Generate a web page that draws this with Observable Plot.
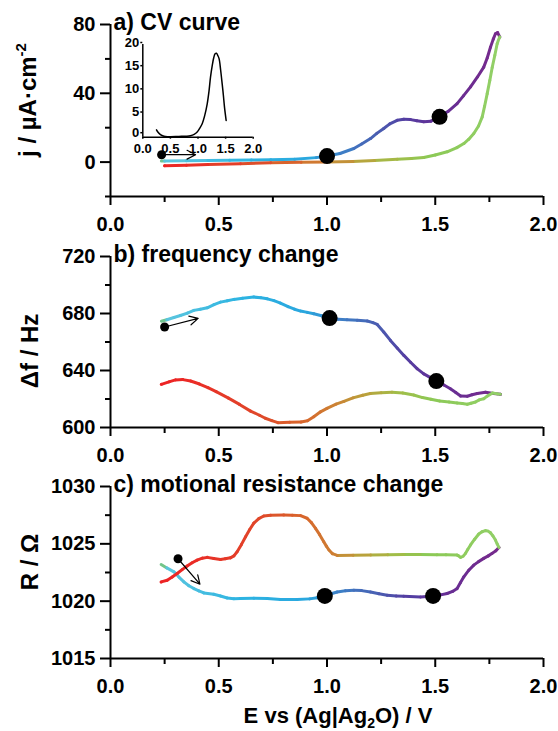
<!DOCTYPE html>
<html><head><meta charset="utf-8">
<script src="https://cdn.jsdelivr.net/npm/d3@7"></script>
<script src="https://cdn.jsdelivr.net/npm/@observablehq/plot@0.6"></script>
<style>
html,body{margin:0;padding:0;background:#fff;}
#wrap{position:relative;width:558px;height:731px;overflow:hidden;}
</style></head>
<body><div id="wrap"></div>
<script>
// ---------- data ----------
const xMajor = [0, 0.5, 1.0, 1.5, 2.0];
const xMinor = [0.25, 0.75, 1.25, 1.75];

// a) CV curve
const cvFwdE = [0.235,0.25,0.35,0.45,0.55,0.65,0.74,0.85,0.95,1.0,1.06,1.124,1.16,1.201,1.23,1.262,1.29,1.324,1.355,1.386,1.415,1.447,1.48,1.521,1.56,1.601,1.63,1.663,1.695,1.724,1.74,1.755,1.768,1.778,1.788,1.798];
const cvFwdJ = [0.6,0.6,0.8,0.95,1.05,1.15,1.3,1.7,2.6,3.5,5.0,7.9,10.5,13.7,16.7,19.5,22.2,24.3,24.9,24.7,24.0,23.4,23.8,26.3,29.5,34.0,38.5,43.7,49.5,55.2,60.5,66.8,71.5,74.6,75.3,72.8];
const cvRevE = [1.798,1.792,1.786,1.775,1.763,1.752,1.740,1.728,1.717,1.700,1.678,1.655,1.632,1.600,1.555,1.50,1.447,1.39,1.324,1.22,1.12,1.0,0.88,0.74,0.60,0.45,0.35,0.25];
const cvRevJ = [72.8,71.0,68.8,62.0,55.0,47.5,39.8,32.5,26.3,21.0,16.6,13.3,10.8,8.4,6.0,4.1,2.7,2.1,1.6,0.9,0.4,0.1,-0.1,-0.4,-0.9,-1.4,-1.8,-2.1];
const cvDotE = [1.0, 1.52];
const cvDotJ = [3.5, 26.3];
const cvStart = [0.236, 4.3, 0.393, 4.3];
const cvYMajor = [80, 40, 0];
const cvYMinor = [60, 20, -20];

// inset
const insetE = [0.248,0.28,0.32,0.36,0.41,0.5,0.62,0.7,0.8,0.864,0.93,0.985,1.03,1.076,1.12,1.167,1.2,1.226,1.26,1.286,1.31,1.335,1.36,1.383,1.41,1.438,1.46,1.48,1.51];
const insetJ = [1.6,1.0,0.55,0.3,0.15,0.1,0.15,0.2,0.2,0.3,0.6,1.1,1.9,2.9,4.6,7.2,10.0,12.9,15.6,17.2,18.0,18.1,17.6,16.9,14.5,11.5,9.0,6.5,3.6];
const insetXTicks = [0, 0.5, 1.0, 1.5, 2.0];
const insetYTicks = [5, 10, 15, 20];
const insetYZero = [0];

// b) frequency change
const frFwdE = [0.235,0.26,0.293,0.323,0.355,0.385,0.415,0.447,0.478,0.508,0.54,0.57,0.61,0.662,0.695,0.724,0.755,0.785,0.82,0.85,0.878,0.909,0.939,0.975,1.012,1.05,1.093,1.14,1.186,1.212,1.232,1.262,1.293,1.324,1.355,1.386,1.416,1.447,1.478,1.508,1.54,1.57,1.595,1.617,1.648,1.67,1.694,1.732,1.77,1.801];
const frFwdF = [674.6,675.6,677.2,678.6,680.3,682.2,683.0,684.0,686.2,688.0,688.9,689.9,690.7,691.5,691.1,690.3,689.0,687.3,684.8,683.0,681.7,680.8,679.8,678.4,676.8,676.0,675.6,675.2,674.7,673.6,672.3,667.0,661.1,655.8,650.6,645.8,641.3,637.6,635.0,632.6,629.8,627.2,624.5,622.1,621.9,623.0,623.8,624.7,623.8,623.3];
const frRevE = [1.801,1.787,1.765,1.740,1.724,1.703,1.686,1.665,1.648,1.625,1.601,1.564,1.520,1.480,1.441,1.400,1.350,1.300,1.250,1.200,1.165,1.120,1.078,1.042,1.0,0.970,0.939,0.910,0.880,0.827,0.773,0.745,0.715,0.688,0.647,0.596,0.545,0.488,0.45,0.411,0.370,0.334,0.300,0.270,0.235];
const frRevF = [623.3,623.6,624.2,622.0,620.2,619.4,617.9,617.0,616.3,616.8,617.2,617.9,618.6,619.8,621.0,622.8,624.2,624.8,624.4,623.8,622.6,620.8,618.3,616.4,613.4,611.0,607.6,604.8,603.8,603.6,603.4,604.8,606.5,608.6,611.5,616.2,620.6,625.2,628.0,630.5,632.6,633.6,633.4,632.0,630.3];
const frDotE = [1.012, 1.505];
const frDotF = [676.8, 632.6];
const frStart = [0.25, 670.5, 0.405, 676.6];
const frYMajor = [720, 680, 640, 600];
const frYMinor = [700, 660, 620];

// c) motional resistance change
const rsFwdE = [0.234,0.26,0.293,0.316,0.339,0.362,0.385,0.408,0.431,0.477,0.508,0.539,0.57,0.6,0.662,0.724,0.785,0.862,0.92,0.954,0.988,1.015,1.047,1.085,1.124,1.16,1.201,1.24,1.278,1.32,1.355,1.432,1.49,1.525,1.555,1.58,1.601,1.616,1.632,1.655,1.678,1.70,1.724,1.745,1.763,1.78,1.794];
const rsFwdR = [1023.2,1022.9,1022.56,1022.1,1021.68,1021.35,1021.1,1020.9,1020.72,1020.6,1020.45,1020.28,1020.22,1020.23,1020.25,1020.23,1020.14,1020.14,1020.2,1020.3,1020.46,1020.62,1020.8,1020.9,1020.95,1020.92,1020.8,1020.65,1020.52,1020.45,1020.43,1020.37,1020.46,1020.55,1020.67,1020.85,1021.1,1021.6,1022.12,1022.7,1023.14,1023.45,1023.73,1023.95,1024.17,1024.4,1024.69];
const rsRevE = [1.794,1.786,1.778,1.766,1.755,1.743,1.732,1.716,1.701,1.682,1.663,1.65,1.64,1.628,1.617,1.608,1.601,1.55,1.508,1.43,1.355,1.28,1.201,1.12,1.047,1.025,1.009,0.997,0.985,0.966,0.947,0.928,0.908,0.878,0.84,0.8,0.739,0.708,0.685,0.662,0.643,0.624,0.605,0.585,0.57,0.554,0.53,0.508,0.477,0.447,0.424,0.4,0.377,0.354,0.331,0.308,0.285,0.262,0.234];
const rsRevR = [1024.69,1025.0,1025.33,1025.7,1025.97,1026.12,1026.15,1026.05,1025.86,1025.4,1024.9,1024.5,1024.17,1023.9,1023.82,1023.95,1024.02,1024.05,1024.05,1024.08,1024.08,1024.05,1024.02,1024.0,1023.99,1024.15,1024.46,1024.8,1025.18,1025.8,1026.35,1026.85,1027.23,1027.46,1027.5,1027.52,1027.5,1027.43,1027.2,1026.8,1026.25,1025.62,1024.95,1024.31,1023.95,1023.78,1023.7,1023.64,1023.72,1023.82,1023.75,1023.58,1023.35,1023.06,1022.75,1022.41,1022.1,1021.83,1021.68];
const rsDotE = [0.99, 1.49];
const rsDotR = [1020.46, 1020.46];
const rsStart = [0.312, 1023.7, 0.413, 1021.48];
const rsYMajor = [1030, 1025, 1020, 1015];
const rsYMinor = [1027.5, 1022.5, 1017.5];

// ---------- styling ----------
const FONT = "'Liberation Sans', Arial, Helvetica, sans-serif";
const fwdColor = d3.scaleLinear()
  .domain([0.23, 0.245, 0.6, 0.9, 1.0, 1.2, 1.35, 1.5, 1.8])
  .range(["#7cc46a", "#5cc6de", "#2cb3e2", "#2aa6de", "#3a88cc", "#4862b4", "#543fa2", "#632f95", "#782a8c"])
  .clamp(true);
const revColor = d3.scaleLinear()
  .domain([0.23, 0.4, 0.7, 0.9, 1.05, 1.2, 1.35, 1.5, 1.8])
  .range(["#ed2224", "#ea2c26", "#e0482a", "#d8662c", "#cc8234", "#b9a23c", "#a2bd48", "#8cc956", "#92d068"])
  .clamp(true);

const wrap = document.getElementById("wrap");
function place(node, left, top) {
  const d = document.createElement("div");
  d.style.position = "absolute";
  d.style.left = left + "px";
  d.style.top = top + "px";
  d.appendChild(node);
  wrap.appendChild(d);
}

function panel(cfg) {
  const fwd = cfg.fwdE.map((e, i) => ({E: e, v: cfg.fwdV[i], c: fwdColor(e)}));
  const rev = cfg.revE.map((e, i) => ({E: e, v: cfg.revV[i], c: revColor(e)}));
  const dots = cfg.dotE.map((e, i) => ({E: e, v: cfg.dotV[i]}));
  const s = cfg.start;
  const arrow = [{x1: s[0], y1: s[1], x2: s[2], y2: s[3]}];
  const node = Plot.plot({
    width: 558, height: cfg.height,
    marginLeft: 110, marginRight: 15, marginTop: cfg.mt, marginBottom: cfg.mb,
    x: {domain: [0, 2]},
    y: {domain: cfg.ydom},
    color: {type: "identity"},
    style: {background: "transparent", fontFamily: FONT, fontSize: "20px", fontWeight: "bold", color: "black", overflow: "visible"},
    marks: [
      Plot.axisX({ticks: xMajor, tickSize: 9, tickPadding: 11, tickFormat: d3.format(".1f"), strokeWidth: 2, label: null, fontSize: 20, fontWeight: "bold"}),
      Plot.axisX({ticks: xMinor, tickSize: 6, tickFormat: () => "", strokeWidth: 2, label: null}),
      Plot.axisY({ticks: cfg.yMajor, tickSize: 10, tickPadding: 5, tickFormat: d3.format("d"), strokeWidth: 2, label: null, fontSize: 20, fontWeight: "bold"}),
      Plot.axisY({ticks: cfg.yMinor, tickSize: 5, tickFormat: () => "", strokeWidth: 2, label: null}),
      Plot.ruleX([0], {strokeWidth: 2}),
      Plot.ruleY([cfg.ydom[0]], {strokeWidth: 2}),
      Plot.line(fwd, {x: "E", y: "v", stroke: "c", z: null, strokeWidth: 3, strokeLinecap: "round", strokeLinejoin: "round"}),
      Plot.line(rev, {x: "E", y: "v", stroke: "c", z: null, strokeWidth: 3, strokeLinecap: "round", strokeLinejoin: "round"}),
      Plot.arrow(arrow, {x1: "x1", y1: "y1", x2: "x2", y2: "y2", stroke: "black", strokeWidth: 1.2, headLength: 12, headAngle: 55}),
      Plot.dot([{E: s[0], v: s[1]}], {x: "E", y: "v", r: 4.5, fill: "black"}),
      Plot.dot(dots, {x: "E", y: "v", r: 8, fill: "black"}),
      Plot.text([cfg.title], {text: d => d, frameAnchor: "top-left", dx: 3, dy: -2, textAnchor: "start", lineAnchor: "middle", fontSize: 23, fontWeight: "bold"})
    ]
  });
  return node;
}

// a)
const nodeA = panel({height: 230, mt: 24, mb: 34, ydom: [-20, 80], yMajor: cvYMajor, yMinor: cvYMinor,
  fwdE: cvFwdE, fwdV: cvFwdJ, revE: cvRevE, revV: cvRevJ, dotE: cvDotE, dotV: cvDotJ, start: cvStart, title: "a) CV curve"});
place(nodeA, 0, 0);
{
  const t = d3.select(nodeA).append("text")
    .attr("transform", "translate(36,100) rotate(-90)")
    .attr("text-anchor", "middle").attr("font-size", 24).attr("font-weight", "bold").attr("fill", "black")
    .attr("font-family", FONT);
  t.append("tspan").text("j / µA·cm");
  t.append("tspan").attr("font-size", 15).attr("dy", -10).text("-2");
}

// b)
const nodeB = panel({height: 230, mt: 26, mb: 33, ydom: [600, 720], yMajor: frYMajor, yMinor: frYMinor,
  fwdE: frFwdE, fwdV: frFwdF, revE: frRevE, revV: frRevF, dotE: frDotE, dotV: frDotF, start: frStart, title: "b) frequency change"});
place(nodeB, 0, 230);
d3.select(nodeB).append("text")
  .attr("transform", "translate(38,121) rotate(-90)")
  .attr("text-anchor", "middle").attr("font-size", 24).attr("font-weight", "bold").attr("fill", "black")
  .attr("font-family", FONT)
  .text("Δf / Hz");

// c)
const nodeC = panel({height: 271, mt: 26, mb: 73, ydom: [1015, 1030], yMajor: rsYMajor, yMinor: rsYMinor,
  fwdE: rsFwdE, fwdV: rsFwdR, revE: rsRevE, revV: rsRevR, dotE: rsDotE, dotV: rsDotR, start: rsStart, title: "c) motional resistance change"});
place(nodeC, 0, 460);
d3.select(nodeC).append("text")
  .attr("transform", "translate(38,102) rotate(-90)")
  .attr("text-anchor", "middle").attr("font-size", 24).attr("font-weight", "bold").attr("fill", "black")
  .attr("font-family", FONT)
  .text("R / Ω");
{
  const t = d3.select(nodeC).append("text")
    .attr("x", 338).attr("y", 263)
    .attr("text-anchor", "middle").attr("font-size", 22).attr("font-weight", "bold").attr("fill", "black")
    .attr("font-family", FONT);
  t.append("tspan").text("E vs (Ag|Ag");
  t.append("tspan").attr("font-size", 14).attr("dy", 5).text("2");
  t.append("tspan").attr("dy", -5).text("O) / V");
}

// inset
const insetData = insetE.map((e, i) => ({E: e, j: insetJ[i]}));
const nodeI = Plot.plot({
  width: 155, height: 130,
  marginLeft: 27.3, marginRight: 17.3, marginTop: 14, marginBottom: 23.3,
  x: {domain: [0, 2]}, y: {domain: [0, 20]},
  style: {background: "transparent", fontFamily: FONT, fontSize: "13px", fontWeight: "bold", color: "black", overflow: "visible"},
  marks: [
    Plot.axisX({ticks: insetXTicks, tickSize: 2, tickPadding: 4.5, tickFormat: d3.format(".1f"), strokeWidth: 1.5, label: null, fontSize: 13, fontWeight: "bold"}),
    Plot.axisY({ticks: insetYTicks, tickSize: 2, tickPadding: 1.5, dy: -2, tickFormat: d3.format("d"), strokeWidth: 1.5, label: null, fontSize: 13, fontWeight: "bold"}),
    Plot.axisY({ticks: insetYZero, tickSize: 2, tickPadding: 1.5, dy: -4.5, tickFormat: d3.format("d"), strokeWidth: 1.5, label: null, fontSize: 13, fontWeight: "bold"}),
    Plot.ruleX([0], {strokeWidth: 1.5}),
    Plot.ruleY([0], {strokeWidth: 1.5}),
    Plot.line(insetData, {x: "E", y: "j", stroke: "black", strokeWidth: 1.5, curve: "catmull-rom"})
  ]
});
place(nodeI, 115, 30);
</script>
</body></html>
